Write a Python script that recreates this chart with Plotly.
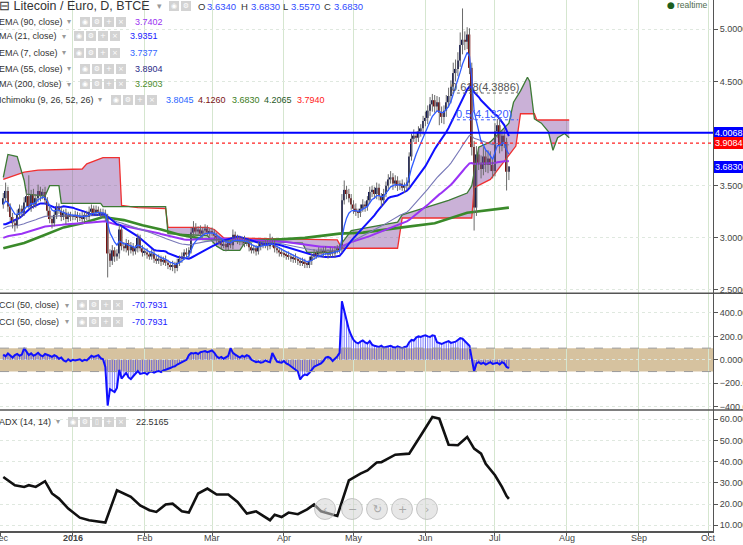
import pandas as pd
import plotly.graph_objects as go

# ---------------- data ----------------
START = "2015-12-02"   # first daily bar

close_dec = [3.38, 3.45, 3.30, 3.20, 3.14, 3.12, 3.22, 3.28, 3.24, 3.34,
             3.40, 3.30, 3.42, 3.32, 3.38, 3.45, 3.40, 3.44, 3.36, 3.26,
             3.18, 3.14, 3.22, 3.30, 3.26, 3.20, 3.24, 3.18, 3.22, 3.20]
close_jan = [3.20, 3.22, 3.19, 3.21, 3.18, 3.22, 3.20, 3.25, 3.28, 3.24,
             3.27, 3.25, 3.22, 3.24, 3.20, 2.85, 2.78, 2.88, 2.82, 2.85,
             3.08, 2.92, 2.90, 2.95, 2.88, 2.92, 2.87, 2.90, 3.00, 2.90, 2.86]
close_feb = [2.86, 2.84, 2.82, 2.85, 2.80, 2.78, 2.80, 2.77, 2.79, 2.76,
             2.74, 2.72, 2.74, 2.71, 2.76, 2.80, 2.82, 2.86, 2.84, 2.88,
             3.05, 3.10, 3.06, 3.08, 3.04, 3.07, 3.09, 3.05, 3.06]
close_mar = [3.05, 3.02, 2.98, 2.96, 2.93, 2.94, 2.91, 2.95, 2.93, 3.03,
             3.00, 2.98, 2.96, 2.98, 2.95, 2.96, 2.91, 2.88, 2.90, 2.87,
             2.92, 2.94, 2.93, 2.95, 2.92, 2.98, 2.94, 2.90, 2.88, 2.86, 2.85]
close_apr = [2.84, 2.83, 2.82, 2.80, 2.81, 2.79, 2.78, 2.76, 2.77, 2.75,
             2.74, 2.78, 2.82, 2.85, 2.84, 2.87, 2.85, 2.88, 2.86, 2.84,
             2.87, 2.85, 2.88, 2.90, 2.89, 3.36, 3.46, 3.42, 3.38, 3.32]
close_may = [3.28, 3.25, 3.24, 3.28, 3.32, 3.30, 3.36, 3.44, 3.46, 3.42,
             3.48, 3.40, 3.36, 3.42, 3.50, 3.56, 3.58, 3.52, 3.55, 3.50,
             3.52, 3.48, 3.50, 3.53, 3.78, 3.95, 3.98, 3.96, 4.02, 4.05, 4.12]
close_jun = [4.15, 4.22, 4.28, 4.32, 4.26, 4.30, 4.20, 4.16, 4.22, 4.30,
             4.36, 4.45, 4.58, 4.62, 4.70, 4.85, 4.90, 4.88, 4.95, 4.63,
             3.87, 3.29, 3.80, 3.72, 3.66, 3.78, 3.70, 3.76, 3.70, 3.64]
close_jul = [4.02, 4.08, 3.88, 3.98, 3.92, 3.634, 3.683]
first_open = 3.32

upw_dec = [0.05, 0.08, 0.04, 0.03, 0.04, 0.03, 0.05, 0.04, 0.03, 0.05,
           0.06, 0.20, 0.04, 0.05, 0.04, 0.06, 0.04, 0.03, 0.05, 0.03,
           0.04, 0.03, 0.05, 0.04, 0.03, 0.04, 0.03, 0.04, 0.03, 0.03]
upw_jan = [0.03, 0.04, 0.03, 0.03, 0.04, 0.03, 0.04, 0.05, 0.04, 0.03,
           0.04, 0.03, 0.03, 0.04, 0.03, 0.03, 0.04, 0.05, 0.03, 0.04,
           0.05, 0.03, 0.04, 0.04, 0.03, 0.04, 0.03, 0.03, 0.04, 0.03, 0.03]
upw_feb = [0.03, 0.04, 0.03, 0.04, 0.03, 0.03, 0.04, 0.03, 0.03, 0.04,
           0.03, 0.03, 0.04, 0.03, 0.04, 0.03, 0.04, 0.03, 0.04, 0.03,
           0.05, 0.06, 0.04, 0.03, 0.04, 0.03, 0.04, 0.03, 0.03]
upw_mar = [0.04, 0.03, 0.03, 0.04, 0.03, 0.03, 0.04, 0.03, 0.04, 0.05,
           0.03, 0.03, 0.04, 0.03, 0.04, 0.03, 0.03, 0.04, 0.03, 0.03,
           0.04, 0.03, 0.03, 0.04, 0.03, 0.06, 0.03, 0.04, 0.03, 0.03, 0.04]
upw_apr = [0.03, 0.03, 0.04, 0.03, 0.03, 0.04, 0.03, 0.03, 0.04, 0.03,
           0.03, 0.04, 0.03, 0.04, 0.03, 0.04, 0.03, 0.03, 0.04, 0.03,
           0.04, 0.03, 0.04, 0.03, 0.04, 0.06, 0.09, 0.04, 0.05, 0.04]
upw_may = [0.04, 0.05, 0.03, 0.04, 0.05, 0.03, 0.04, 0.05, 0.04, 0.03,
           0.05, 0.04, 0.03, 0.05, 0.04, 0.05, 0.06, 0.04, 0.05, 0.04,
           0.03, 0.04, 0.03, 0.05, 0.04, 0.05, 0.06, 0.04, 0.05, 0.04, 0.05]
upw_jun = [0.06, 0.05, 0.07, 0.06, 0.05, 0.06, 0.05, 0.06, 0.05, 0.07,
           0.08, 0.06, 0.10, 0.09, 0.08, 0.12, 0.30, 0.08, 0.07, 0.06,
           0.05, 0.06, 0.08, 0.06, 0.07, 0.09, 0.06, 0.08, 0.07, 0.06]
upw_jul = [0.08, 0.06, 0.07, 0.05, 0.06, 0.04, 0.00]

low_dec = [0.04, 0.03, 0.05, 0.04, 0.05, 0.06, 0.03, 0.04, 0.04, 0.03,
           0.04, 0.03, 0.05, 0.04, 0.03, 0.04, 0.05, 0.03, 0.04, 0.05,
           0.04, 0.05, 0.03, 0.04, 0.03, 0.04, 0.03, 0.05, 0.03, 0.04]
low_jan = [0.03, 0.03, 0.04, 0.03, 0.03, 0.04, 0.03, 0.03, 0.04, 0.03,
           0.03, 0.04, 0.03, 0.03, 0.04, 0.23, 0.06, 0.04, 0.05, 0.04,
           0.05, 0.04, 0.03, 0.04, 0.05, 0.03, 0.04, 0.03, 0.04, 0.03, 0.04]
low_feb = [0.03, 0.04, 0.03, 0.03, 0.04, 0.03, 0.03, 0.04, 0.03, 0.03,
           0.04, 0.03, 0.04, 0.05, 0.03, 0.03, 0.04, 0.03, 0.03, 0.04,
           0.03, 0.04, 0.03, 0.04, 0.03, 0.04, 0.03, 0.03, 0.04]
low_mar = [0.03, 0.04, 0.03, 0.03, 0.04, 0.03, 0.04, 0.03, 0.03, 0.04,
           0.03, 0.04, 0.03, 0.03, 0.04, 0.03, 0.04, 0.03, 0.03, 0.04,
           0.03, 0.04, 0.03, 0.03, 0.04, 0.03, 0.03, 0.04, 0.03, 0.04, 0.03]
low_apr = [0.03, 0.04, 0.03, 0.03, 0.04, 0.03, 0.04, 0.03, 0.03, 0.04,
           0.03, 0.03, 0.04, 0.03, 0.04, 0.03, 0.03, 0.04, 0.03, 0.04,
           0.03, 0.03, 0.04, 0.03, 0.04, 0.03, 0.04, 0.05, 0.04, 0.05]
low_may = [0.05, 0.04, 0.05, 0.04, 0.03, 0.05, 0.04, 0.03, 0.05, 0.04,
           0.05, 0.04, 0.06, 0.04, 0.03, 0.05, 0.04, 0.06, 0.04, 0.05,
           0.04, 0.03, 0.05, 0.04, 0.05, 0.04, 0.03, 0.05, 0.04, 0.05, 0.06]
low_jun = [0.05, 0.06, 0.05, 0.07, 0.06, 0.05, 0.12, 0.06, 0.07, 0.06,
           0.05, 0.07, 0.06, 0.08, 0.07, 0.06, 0.09, 0.08, 0.07, 0.06,
           0.08, 0.22, 0.08, 0.07, 0.09, 0.06, 0.07, 0.08, 0.06, 0.07]
low_jul = [0.05, 0.06, 0.07, 0.05, 0.06, 0.18, 0.08]

# MA(21) for the first 20 bars (history not visible)
ma21_head = [3.13, 3.13, 3.14, 3.15, 3.16, 3.17, 3.18, 3.19, 3.21, 3.23,
             3.25, 3.27, 3.29, 3.30, 3.31, 3.32, 3.33, 3.33, 3.33, 3.32]
ema7_seed, ema55_seed, ema90_seed = 3.32, 3.09, 3.00

ma200_dates = ["2015-12-02", "2015-12-11", "2015-12-19", "2015-12-28", "2016-01-05",
               "2016-01-14", "2016-01-23", "2016-01-31", "2016-02-08", "2016-02-16",
               "2016-02-26", "2016-03-13", "2016-03-27", "2016-04-10", "2016-04-25",
               "2016-05-05", "2016-05-22", "2016-06-05", "2016-06-19", "2016-07-07"]
ma200_vals = [2.90, 2.95, 3.02, 3.10, 3.14, 3.20, 3.17, 3.12, 3.08, 3.03,
              2.99, 2.97, 2.98, 3.00, 3.04, 3.05, 3.10, 3.14, 3.24, 3.29]

lead2_dates = ["2015-12-02", "2015-12-06", "2015-12-11", "2015-12-17", "2016-01-05",
               "2016-01-07", "2016-01-14", "2016-01-21", "2016-01-22", "2016-01-29",
               "2016-02-10", "2016-02-11", "2016-02-28", "2016-03-02", "2016-03-06",
               "2016-04-24", "2016-04-26", "2016-05-20", "2016-05-22", "2016-06-21",
               "2016-06-22", "2016-06-29", "2016-07-07", "2016-07-10", "2016-07-12",
               "2016-07-18", "2016-07-19", "2016-08-02"]
lead2_vals = [3.56, 3.59, 3.63, 3.65, 3.66, 3.71, 3.77, 3.77, 3.31, 3.29,
              3.28, 3.10, 3.10, 3.08, 3.00, 2.98, 2.90, 2.90, 3.19, 3.19,
              3.48, 3.56, 3.79, 3.88, 4.19, 4.19, 4.13, 4.13]
lead1_dates = ["2015-12-02", "2015-12-04", "2015-12-08", "2015-12-11", "2015-12-12",
               "2015-12-20", "2015-12-22", "2015-12-26", "2015-12-27", "2016-01-13",
               "2016-01-14", "2016-02-10", "2016-02-11", "2016-02-28", "2016-03-03",
               "2016-03-06", "2016-03-13", "2016-03-15", "2016-03-20", "2016-04-09",
               "2016-04-11", "2016-04-23", "2016-04-30", "2016-05-20", "2016-05-22",
               "2016-06-11", "2016-06-19", "2016-06-21", "2016-06-24", "2016-06-29",
               "2016-07-07", "2016-07-09", "2016-07-12", "2016-07-15", "2016-07-16",
               "2016-07-18", "2016-07-21", "2016-07-24", "2016-07-26", "2016-07-28",
               "2016-07-31", "2016-08-02"]
lead1_vals = [3.58, 3.80, 3.78, 3.55, 3.42, 3.40, 3.50, 3.50, 3.33, 3.33,
              3.30, 3.30, 3.04, 3.02, 2.92, 2.88, 2.88, 2.95, 2.97, 2.95,
              2.86, 2.86, 3.07, 3.15, 3.22, 3.36, 3.43, 3.50, 3.87, 3.92,
              4.10, 4.30, 4.41, 4.54, 4.50, 4.14, 4.10, 4.02, 3.84, 3.96,
              4.00, 3.96]

cci_dec = [45, 30, 55, 35, 20, 40, 50, 35, 45, 100, 70, 40, 55, 35, 45, 60, 40, 30,
           50, 45, 35, 25, 40, 30, 10, 20, -5, -15, 5, -10]
cci_jan = [0, -5, 0, 5, -10, 0, -5, 20, 35, 25, 30, 40, 15, 5, -60, -390, -250, -265,
           -275, -240, -85, -160, -130, -110, -150, -165, -140, -120, -95, -120, -115]
cci_feb = [-110, -125, -105, -100, -110, -100, -95, -105, -90, -85, -80, -70, -60, -55,
           -40, -30, -20, -10, 0, 40, 58, 55, 60, 50, 65, 70, 75, 65, 70]
cci_mar = [80, 60, 30, 15, 25, 10, 20, 35, 100, 60, 45, 30, 20, 35, 25, 40, 30, 0, -10,
           -20, -15, -25, -20, -5, -15, -20, 58, 20, -15, -20, -25]
cci_apr = [-10, -30, -40, -55, -70, -90, -100, -167, -140, -125, -130, -110, -80, -60,
           -50, -40, -30, -10, 20, 25, 15, -10, 10, 30, 60, 500, 420, 330, 260, 210]
cci_may = [170, 150, 140, 155, 165, 150, 140, 160, 130, 120, 115, 110, 120, 105, 110,
           115, 120, 110, 105, 115, 110, 100, 110, 115, 150, 170, 165, 190, 200, 195, 205]
cci_jun = [210, 200, 195, 210, 205, 150, 140, 135, 145, 150, 160, 145, 150, 155, 170,
           185, 180, 160, 140, 120, 10, -100, -30, -20, -35, -25, -40, -30, -20, -35]
cci_jul = [-30, -25, -40, -20, -30, -60, -70.79]

adx_dates = ["2015-12-02", "2015-12-07", "2015-12-11", "2015-12-13", "2015-12-16",
             "2015-12-20", "2015-12-23", "2015-12-26", "2015-12-30", "2016-01-04",
             "2016-01-08", "2016-01-12", "2016-01-15", "2016-01-20", "2016-01-23",
             "2016-01-26", "2016-01-30", "2016-02-03", "2016-02-06", "2016-02-10",
             "2016-02-13", "2016-02-17", "2016-02-20", "2016-02-24", "2016-02-28",
             "2016-03-03", "2016-03-08", "2016-03-12", "2016-03-16", "2016-03-20",
             "2016-03-26", "2016-03-28", "2016-03-31", "2016-04-03", "2016-04-07",
             "2016-04-11", "2016-04-14", "2016-04-17", "2016-04-24", "2016-04-29",
             "2016-05-04", "2016-05-07", "2016-05-11", "2016-05-13", "2016-05-19",
             "2016-05-25", "2016-05-30", "2016-06-04", "2016-06-07", "2016-06-11",
             "2016-06-15", "2016-06-19", "2016-06-22", "2016-06-25", "2016-06-27",
             "2016-07-01", "2016-07-04", "2016-07-06", "2016-07-07"]
adx_vals = [32.8, 28.9, 28.1, 28.9, 28.1, 30.8, 25.0, 22.6, 17.9, 13.6,
            12.4, 11.9, 11.3, 26.5, 25.0, 23.4, 19.4, 17.1, 16.3, 19.8,
            20.2, 16.6, 16.0, 25.0, 27.3, 24.5, 24.5, 21.0, 15.5, 16.6,
            12.4, 15.0, 13.9, 16.0, 15.2, 17.5, 19.8, 16.6, 14.4, 31.2,
            34.4, 35.9, 39.6, 39.8, 43.3, 43.8, 52.4, 61.1, 60.3, 48.0,
            47.8, 51.7, 46.2, 43.8, 39.0, 33.6, 28.1, 23.8, 22.5]

hline_blue, hline_red, last_price = 4.0068, 3.9084, 3.6830
fib_levels = [("0.618", 4.3886), ("0.5", 4.1320)]
fib_span = ["2016-06-12", "2016-07-11"]

month_ticks = ["2015-12-01", "2016-01-01", "2016-02-01", "2016-03-01", "2016-04-01",
               "2016-05-01", "2016-06-01", "2016-07-01", "2016-08-01", "2016-09-01",
               "2016-10-01"]
month_labels = ["Dec", "<b>2016</b>", "Feb", "Mar", "Apr", "May", "Jun", "Jul", "Aug",
                "Sep", "Oct"]

# ---------------- derived series ----------------
closes = close_dec + close_jan + close_feb + close_mar + close_apr + close_may + close_jun + close_jul
upw = upw_dec + upw_jan + upw_feb + upw_mar + upw_apr + upw_may + upw_jun + upw_jul
loww = low_dec + low_jan + low_feb + low_mar + low_apr + low_may + low_jun + low_jul
cci = cci_dec + cci_jan + cci_feb + cci_mar + cci_apr + cci_may + cci_jun + cci_jul
n = len(closes)
t0 = pd.Timestamp(START)
dates = [t0 + pd.Timedelta(days=i) for i in range(n)]
opens = [first_open] + closes[:-1]
highs = [max(o, c) + u for o, c, u in zip(opens, closes, upw)]
lows = [min(o, c) - l for o, c, l in zip(opens, closes, loww)]


def ema(vals, period, seed):
    a = 2.0 / (period + 1)
    out = [seed]
    for v in vals[1:]:
        out.append(a * v + (1 - a) * out[-1])
    return out


ema7 = ema(closes, 7, ema7_seed)
ema55 = ema(closes, 55, ema55_seed)
ema90 = ema(closes, 90, ema90_seed)
ma21 = ma21_head + [sum(closes[i - 20:i + 1]) / 21.0 for i in range(20, n)]

# ---------------- geometry ----------------
W, H = 743, 545
MR, MB = 30, 14
PW, PH = W - MR, H - MB
FONT = "Liberation Sans, Arial, sans-serif"
DAY = 86400000


def px(x):
    return x / PW


def py(y):
    return 1 - y / PH


X_RANGE = [t0 - pd.Timedelta(days=1.42), t0 + pd.Timedelta(days=306.0)]
dom_main = [py(293.3), 1.0]
dom_cci = [py(410), py(293.3)]
dom_adx = [0.0, py(410)]

fig = go.Figure()

# Ichimoku cloud
fig.add_trace(go.Scatter(x=lead2_dates, y=lead2_vals, mode="lines",
                         line=dict(color="#f03030", width=1.3), xaxis="x", yaxis="y"))
fig.add_trace(go.Scatter(x=lead1_dates, y=lead1_vals, mode="lines", fill="tonexty",
                         fillcolor="rgba(128,70,160,0.42)",
                         line=dict(color="#3d7a35", width=1.3), xaxis="x", yaxis="y"))
# moving averages under the candles
fig.add_trace(go.Scatter(x=ma200_dates, y=ma200_vals, mode="lines",
                         line=dict(color="#3a8a2a", width=2.6), xaxis="x", yaxis="y"))
fig.add_trace(go.Scatter(x=dates, y=ema90, mode="lines",
                         line=dict(color="#9a33f5", width=2), xaxis="x", yaxis="y"))
fig.add_trace(go.Scatter(x=dates, y=ema55, mode="lines",
                         line=dict(color="#7878b8", width=1.1), xaxis="x", yaxis="y"))
fig.add_trace(go.Scatter(x=dates, y=ma21, mode="lines",
                         line=dict(color="#1010ff", width=2), xaxis="x", yaxis="y"))

# candles: wicks + bodies
wx, wy = [], []
for d, h, l in zip(dates, highs, lows):
    wx += [d, d, None]
    wy += [l, h, None]
fig.add_trace(go.Scatter(x=wx, y=wy, mode="lines", line=dict(color="#6a6a6a", width=1),
                         xaxis="x", yaxis="y"))
body_base = [min(o, c) for o, c in zip(opens, closes)]
body_h = [max(abs(c - o), 0.008) for o, c in zip(opens, closes)]
body_col = ["#151a55" if c >= o else "#7a1212" for o, c in zip(opens, closes)]
fig.add_trace(go.Bar(x=dates, y=body_h, base=body_base, width=0.72 * DAY,
                     marker=dict(color=body_col, line=dict(width=0)), xaxis="x", yaxis="y"))
fig.add_trace(go.Scatter(x=dates, y=ema7, mode="lines",
                         line=dict(color="#2f5bff", width=1.3), xaxis="x", yaxis="y"))

# Fibonacci level stubs
for (lab, lv), col in zip(fib_levels, ["#666666", "#3a5aff"]):
    fig.add_trace(go.Scatter(x=fib_span, y=[lv, lv], mode="lines",
                             line=dict(color=col, width=1, dash="dot"), xaxis="x", yaxis="y"))

# CCI
cdates = dates[:len(cci)]
fig.add_trace(go.Bar(x=cdates, y=cci, width=0.45 * DAY,
                     marker=dict(color="rgba(30,30,255,0.55)", line=dict(width=0)),
                     xaxis="x2", yaxis="y2"))
fig.add_trace(go.Scatter(x=cdates, y=cci, mode="lines", line=dict(color="#1010ff", width=2),
                         xaxis="x2", yaxis="y2"))
# ADX
fig.add_trace(go.Scatter(x=adx_dates, y=adx_vals, mode="lines",
                         line=dict(color="#111111", width=2.6), xaxis="x3", yaxis="y3"))

# ---------------- axes ----------------
grid_v = "#d5e6cf"
grid_h = "#dfe8df"
xcommon = dict(type="date", range=X_RANGE, tickvals=month_ticks, automargin=False,
               showgrid=True, gridcolor=grid_v, gridwidth=1, zeroline=False,
               showticklabels=False)
ycommon = dict(side="right", showline=True, linecolor="#555", linewidth=1, ticks="outside",
               ticklen=4, tickcolor="#555", tickformat=".4f", showgrid=True, automargin=False,
               gridcolor=grid_h, griddash="dot", zeroline=False, ticklabeloverflow="allow",
               tickfont=dict(family=FONT, size=9, color="#444"))

fig.update_layout(
    width=W, height=H, margin=dict(l=0, r=MR, t=0, b=MB, autoexpand=False),
    paper_bgcolor="white", plot_bgcolor="white", showlegend=False, barmode="overlay",
    xaxis=dict(**xcommon, domain=[0, 1], anchor="y"),
    xaxis2=dict(**xcommon, domain=[0, 1], anchor="y2", matches="x"),
    xaxis3=dict(**xcommon, domain=[0, 1], anchor="y3", matches="x",
                ticks="outside", ticklen=3, tickcolor="#555", showline=True,
                linecolor="#555", linewidth=1.5),
    yaxis=dict(**ycommon, domain=dom_main, anchor="x", range=[2.468, 5.281],
               tickvals=[2.5, 3.0, 3.5, 4.5, 5.0]),
    yaxis2=dict(**ycommon, domain=dom_cci, anchor="x2", range=[-428, 568],
                tickvals=[-400, -200, 0, 200, 400]),
    yaxis3=dict(**ycommon, domain=dom_adx, anchor="x3", range=[7.3, 64.4],
                tickvals=[10, 20, 30, 40, 50, 60]),
)

shapes = [
    dict(type="rect", xref="paper", x0=0, x1=1, yref="y2", y0=-100, y1=100,
         fillcolor="#d6c29f", line=dict(width=0), layer="below"),
    dict(type="line", xref="paper", x0=0, x1=1, yref="y2", y0=100, y1=100,
         line=dict(color="#9a9a9a", width=1, dash="dash")),
    dict(type="line", xref="paper", x0=0, x1=1, yref="y2", y0=-100, y1=-100,
         line=dict(color="#9a9a9a", width=1, dash="dash")),
    dict(type="line", xref="paper", x0=0, x1=1, yref="y", y0=hline_blue, y1=hline_blue,
         line=dict(color="#0000ff", width=2)),
    dict(type="line", xref="paper", x0=0, x1=1, yref="y", y0=hline_red, y1=hline_red,
         line=dict(color="#ff2020", width=1.3, dash="dot")),
    dict(type="line", xref="paper", x0=0, x1=W / PW, yref="paper", y0=py(293.3), y1=py(293.3),
         line=dict(color="#555", width=1.5)),
    dict(type="line", xref="paper", x0=0, x1=W / PW, yref="paper", y0=py(410), y1=py(410),
         line=dict(color="#555", width=1.5)),
]
# navigation buttons
nav = [(325, "‹"), (352, "−"), (377, "↻"), (402, "+"), (427, "›")]
ann = []
for cx, g in nav:
    shapes.append(dict(type="circle", xref="paper", yref="paper",
                       x0=px(cx - 10.5), x1=px(cx + 10.5), y0=py(509 + 10.5), y1=py(509 - 10.5),
                       fillcolor="rgba(212,212,212,0.55)", line=dict(color="rgba(185,185,185,0.8)", width=1)))
    ann.append(dict(x=px(cx), y=py(509), xref="paper", yref="paper", text=g, showarrow=False,
                    xanchor="center", yanchor="middle",
                    font=dict(family="DejaVu Sans", size=11, color="#a8a8a8")))


def txt(x, y, s, size=9, color="#333", **kw):
    ann.append(dict(x=px(x), y=py(y), xref="paper", yref="paper", text=s, showarrow=False,
                    xanchor="left", yanchor="middle", borderpad=0, borderwidth=0,
                    font=dict(family=kw.pop("family", FONT), size=size, color=color), **kw))


def icons(x, y, glyphs):
    for i, g in enumerate(glyphs):
        ann.append(dict(x=px(x + i * 12), y=py(y), xref="paper", yref="paper", text=g,
                        showarrow=False, xanchor="left", yanchor="middle", width=10, height=10,
                        bgcolor="#d3d3d3", borderpad=0, borderwidth=0,
                        font=dict(family="DejaVu Sans", size=7, color="#ffffff")))


# month labels under the bottom axis
for tv, tl in zip(month_ticks, month_labels):
    ann.append(dict(x=tv, y=py(538), xref="x3", yref="paper", text=tl, showarrow=False,
                    xanchor="center", yanchor="middle", borderpad=0, borderwidth=0,
                    font=dict(family=FONT, size=9, color="#444")))

ARROW = "▾"
# title row
txt(-1, 6, "⊟ Litecoin / Euro, D, BTCE", size=12.5, color="#333")
txt(157, 6, ARROW, size=9, color="#999", family="DejaVu Sans")
icons(169, 6, ["◉", "⚙"])
ohlc = [("O", 198, "3.6340", 207), ("H", 241, "3.6830", 251), ("L", 283, "3.5570", 291),
        ("C", 324, "3.6830", 334)]
for k, kx, v, vx in ohlc:
    txt(kx, 6, k, size=9.5, color="#333")
    txt(vx, 6, v, size=9.5, color="#2f4cff")

rows = [("EMA (90, close)", 21.7, 67, 80, "3.7402", 135, "#9b30f2"),
        ("MA (21, close)", 36.5, 62, 74, "3.9351", 130, "#1a1aff"),
        ("EMA (7, close)", 52.7, 62, 74, "3.7377", 130, "#3366ff"),
        ("EMA (55, close)", 68.5, 67, 80, "3.8904", 135, "#2b2b88"),
        ("MA (200, close)", 84.3, 67, 80, "3.2903", 135, "#4c8c2c")]
for lab, y, ax, ix, v, vx, col in rows:
    txt(-1, y, lab, size=9, color="#333")
    txt(ax, y, ARROW, size=8, color="#999", family="DejaVu Sans")
    icons(ix, y, ["◉", "⚙", "+", "×"])
    txt(vx, y, v, size=9, color=col)

txt(-1, 100, "Ichimoku (9, 26, 52, 26)", size=9, color="#333")
txt(98, 100, ARROW, size=8, color="#999", family="DejaVu Sans")
icons(111, 100, ["◉", "⚙", "+", "×"])
for v, vx, col in [("3.8045", 166, "#2a66ff"), ("4.1260", 198, "#7a1414"),
                   ("3.6830", 232, "#3c7d22"), ("4.2065", 264, "#1f5a1f"),
                   ("3.7940", 297, "#ff2020")]:
    txt(vx, 100, v, size=9, color=col)

for y in (305, 321.5):
    txt(-1, y, "CCI (50, close)", size=9, color="#333")
    txt(65, y, ARROW, size=8, color="#999", family="DejaVu Sans")
    icons(77, y, ["◉", "⚙", "+", "×"])
    txt(132, y, "-70.7931", size=9, color="#1a1aff")

txt(-1, 421.7, "ADX (14, 14)", size=9, color="#333")
txt(56, 421.7, ARROW, size=8, color="#999", family="DejaVu Sans")
icons(68, 421.7, ["◉", "⚙", "▯", "+", "×"])
txt(136, 421.7, "22.5165", size=9, color="#333")

txt(667, 5, "●", size=9, color="#1b5e20", family="DejaVu Sans")
txt(677, 5, "realtime", size=8.5, color="#4d6b4d")

# price boxes on the axis
for v, bg in [(hline_blue, "#0000ff"), (hline_red, "#ff0000"), (last_price, "#0000ff")]:
    ann.append(dict(x=1.002, y=v, xref="paper", yref="y", text=f"{v:.4f}", showarrow=False,
                    xanchor="left", yanchor="middle", bgcolor=bg, borderpad=1, borderwidth=0,
                    font=dict(family=FONT, size=9, color="white")))

# Fibonacci labels
for (lab, lv), col, d0 in zip(fib_levels, ["#555555", "#3a5aff"], ["2016-06-12", "2016-06-14"]):
    ann.append(dict(x=d0, y=lv, xref="x", yref="y", text=f"{lab}({lv:.4f})", showarrow=False,
                    xanchor="left", yanchor="bottom", borderpad=0, borderwidth=0,
                    font=dict(family=FONT, size=11, color=col)))

fig.update_layout(shapes=shapes, annotations=ann)
fig.write_html("out.html", config={"displayModeBar": False},
               post_script="document.body.style.margin='0px';")
